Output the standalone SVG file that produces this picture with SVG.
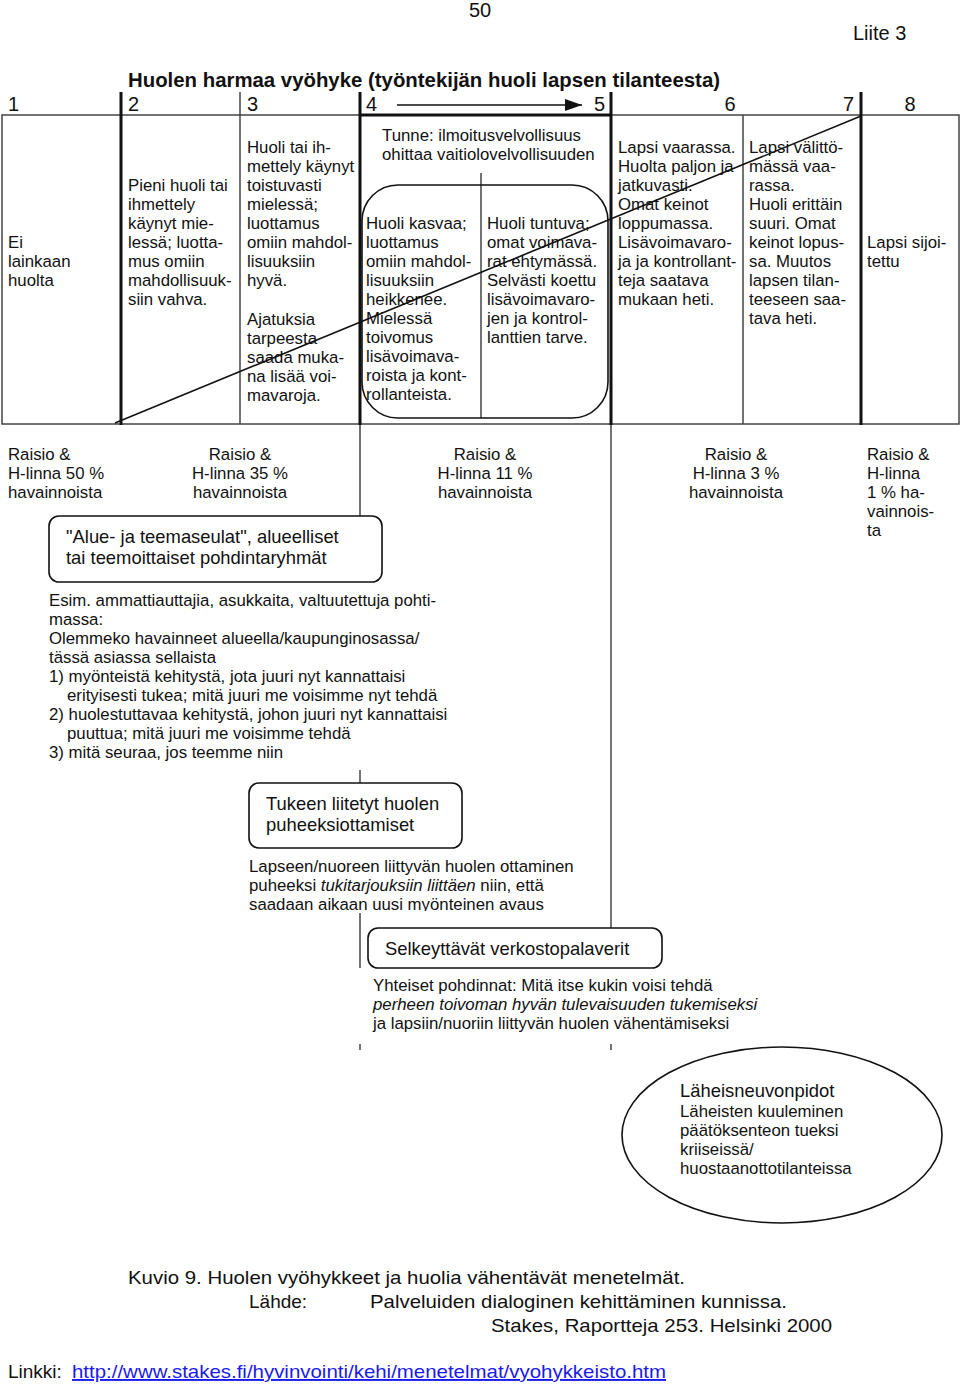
<svg xmlns="http://www.w3.org/2000/svg" width="960" height="1384" viewBox="0 0 960 1384">
<style>
text{font-family:"Liberation Sans",Arial,sans-serif;fill:#111;}
.t{font-size:16.8px;}
.m{font-size:18.4px;}
.h{font-size:20px;}
.thick{stroke:#111;stroke-width:3;fill:none;}
.thin{stroke:#444;stroke-width:1.5;fill:none;}
.box{fill:#fff;stroke:#111;stroke-width:1.6;}
.c{text-anchor:middle;}
.e{text-anchor:end;}
</style>
<defs>
<marker id="ah" markerWidth="18" markerHeight="14" refX="17" refY="7" orient="auto" markerUnits="userSpaceOnUse"><path d="M0,1 L17,7 L0,13 Z" fill="#111"/></marker>
<clipPath id="clipL"><rect x="240" y="850" width="400" height="61"/></clipPath>
</defs>
<rect width="960" height="1384" fill="#fff"/>

<g id="header">
<text class="h c" x="480" y="17">50</text>
<text class="h" x="853" y="40">Liite 3</text>
<text x="128" y="87" style="font-size:21px;font-weight:bold" textLength="592" lengthAdjust="spacingAndGlyphs">Huolen harmaa vyöhyke (työntekijän huoli lapsen tilanteesta)</text>
<text class="h" x="8" y="111">1</text>
<text class="h" x="128" y="111">2</text>
<text class="h" x="247" y="111">3</text>
<text class="h" x="366" y="111">4</text>
<text class="h e" x="605" y="111">5</text>
<text class="h c" x="730" y="111">6</text>
<text class="h e" x="854" y="111">7</text>
<text class="h c" x="910" y="111">8</text>
</g>

<g id="table">
<rect x="2" y="115" width="957" height="309" class="thin"/>
<line x1="360" y1="115" x2="611" y2="115" class="thick"/>
<line x1="121" y1="92" x2="121" y2="425" class="thick"/>
<line x1="240" y1="92" x2="240" y2="424" class="thin"/>
<line x1="360" y1="92" x2="360" y2="425" class="thick"/>
<line x1="611" y1="92" x2="611" y2="425" class="thick"/>
<line x1="743" y1="115" x2="743" y2="424" class="thin"/>
<line x1="861" y1="92" x2="861" y2="425" class="thick"/>
<line x1="481" y1="173" x2="481" y2="418" class="thin"/>
<rect x="362" y="185" width="246" height="233" rx="36" ry="36" fill="none" stroke="#111" stroke-width="1.6"/>
</g>

<g id="col1">
<text class="t" x="8" y="248">Ei</text>
<text class="t" x="8" y="267">lainkaan</text>
<text class="t" x="8" y="286">huolta</text>
</g>
<g id="col2">
<text class="t" x="128" y="191">Pieni huoli tai</text>
<text class="t" x="128" y="210">ihmettely</text>
<text class="t" x="128" y="229">käynyt mie-</text>
<text class="t" x="128" y="248">lessä; luotta-</text>
<text class="t" x="128" y="267">mus omiin</text>
<text class="t" x="128" y="286">mahdollisuuk-</text>
<text class="t" x="128" y="305">siin vahva.</text>
</g>
<g id="col3">
<text class="t" x="247" y="153">Huoli tai ih-</text>
<text class="t" x="247" y="172">mettely käynyt</text>
<text class="t" x="247" y="191">toistuvasti</text>
<text class="t" x="247" y="210">mielessä;</text>
<text class="t" x="247" y="229">luottamus</text>
<text class="t" x="247" y="248">omiin mahdol-</text>
<text class="t" x="247" y="267">lisuuksiin</text>
<text class="t" x="247" y="286">hyvä.</text>
<text class="t" x="247" y="325">Ajatuksia</text>
<text class="t" x="247" y="344">tarpeesta</text>
<text class="t" x="247" y="363">saada muka-</text>
<text class="t" x="247" y="382">na lisää voi-</text>
<text class="t" x="247" y="401">mavaroja.</text>
</g>
<g id="col4">
<text class="t" x="382" y="141">Tunne: ilmoitusvelvollisuus</text>
<text class="t" x="382" y="160">ohittaa vaitiolovelvollisuuden</text>
<text class="t" x="366" y="229">Huoli kasvaa;</text>
<text class="t" x="366" y="248">luottamus</text>
<text class="t" x="366" y="267">omiin mahdol-</text>
<text class="t" x="366" y="286">lisuuksiin</text>
<text class="t" x="366" y="305">heikkenee.</text>
<text class="t" x="366" y="324">Mielessä</text>
<text class="t" x="366" y="343">toivomus</text>
<text class="t" x="366" y="362">lisävoimava-</text>
<text class="t" x="366" y="381">roista ja kont-</text>
<text class="t" x="366" y="400">rollanteista.</text>
</g>
<g id="col5">
<text class="t" x="487" y="229">Huoli tuntuva;</text>
<text class="t" x="487" y="248">omat voimava-</text>
<text class="t" x="487" y="267">rat ehtymässä.</text>
<text class="t" x="487" y="286">Selvästi koettu</text>
<text class="t" x="487" y="305">lisävoimavaro-</text>
<text class="t" x="487" y="324">jen ja kontrol-</text>
<text class="t" x="487" y="343">lanttien tarve.</text>
</g>
<g id="col6">
<text class="t" x="618" y="153">Lapsi vaarassa.</text>
<text class="t" x="618" y="172">Huolta paljon ja</text>
<text class="t" x="618" y="191">jatkuvasti.</text>
<text class="t" x="618" y="210">Omat keinot</text>
<text class="t" x="618" y="229">loppumassa.</text>
<text class="t" x="618" y="248">Lisävoimavaro-</text>
<text class="t" x="618" y="267">ja ja kontrollant-</text>
<text class="t" x="618" y="286">teja saatava</text>
<text class="t" x="618" y="305">mukaan heti.</text>
</g>
<g id="col7">
<text class="t" x="749" y="153">Lapsi välittö-</text>
<text class="t" x="749" y="172">mässä vaa-</text>
<text class="t" x="749" y="191">rassa.</text>
<text class="t" x="749" y="210">Huoli erittäin</text>
<text class="t" x="749" y="229">suuri. Omat</text>
<text class="t" x="749" y="248">keinot lopus-</text>
<text class="t" x="749" y="267">sa. Muutos</text>
<text class="t" x="749" y="286">lapsen tilan-</text>
<text class="t" x="749" y="305">teeseen saa-</text>
<text class="t" x="749" y="324">tava heti.</text>
</g>
<g id="col8">
<text class="t" x="867" y="248">Lapsi sijoi-</text>
<text class="t" x="867" y="267">tettu</text>
</g>

<g id="connectors">
<line x1="397" y1="105" x2="582" y2="105" stroke="#111" stroke-width="1.5" marker-end="url(#ah)"/>
<line x1="115" y1="423" x2="861" y2="116" stroke="#111" stroke-width="1.6"/>
<line x1="360" y1="425" x2="360" y2="516" class="thin"/>
<line x1="611" y1="425" x2="611" y2="928" class="thin"/>
<line x1="360" y1="770" x2="360" y2="783" class="thin"/>
<line x1="360" y1="913" x2="360" y2="968" class="thin"/>
<line x1="360" y1="1044" x2="360" y2="1050" class="thin"/>
<line x1="611" y1="1044" x2="611" y2="1050" class="thin"/>
</g>

<g id="stats">
<text class="t" x="8" y="460">Raisio &amp;</text>
<text class="t" x="8" y="479">H-linna 50 %</text>
<text class="t" x="8" y="498">havainnoista</text>
<text class="t c" x="240" y="460">Raisio &amp;</text>
<text class="t c" x="240" y="479">H-linna 35 %</text>
<text class="t c" x="240" y="498">havainnoista</text>
<text class="t c" x="485" y="460">Raisio &amp;</text>
<text class="t c" x="485" y="479">H-linna 11 %</text>
<text class="t c" x="485" y="498">havainnoista</text>
<text class="t c" x="736" y="460">Raisio &amp;</text>
<text class="t c" x="736" y="479">H-linna 3 %</text>
<text class="t c" x="736" y="498">havainnoista</text>
<text class="t" x="867" y="460">Raisio &amp;</text>
<text class="t" x="867" y="479">H-linna</text>
<text class="t" x="867" y="498">1 % ha-</text>
<text class="t" x="867" y="517">vainnois-</text>
<text class="t" x="867" y="536">ta</text>
</g>

<g id="alue">
<rect x="49" y="516" width="333" height="66" rx="10" class="box"/>
<text class="m" x="66" y="543">"Alue- ja teemaseulat", alueelliset</text>
<text class="m" x="66" y="564">tai teemoittaiset pohdintaryhmät</text>
</g>
<g id="alue-text">
<text class="t" x="49" y="606">Esim. ammattiauttajia, asukkaita, valtuutettuja pohti-</text>
<text class="t" x="49" y="625">massa:</text>
<text class="t" x="49" y="644">Olemmeko havainneet alueella/kaupunginosassa/</text>
<text class="t" x="49" y="663">tässä asiassa sellaista</text>
<text class="t" x="49" y="682">1) myönteistä kehitystä, jota juuri nyt kannattaisi</text>
<text class="t" x="67" y="701">erityisesti tukea; mitä juuri me voisimme nyt tehdä</text>
<text class="t" x="49" y="720">2) huolestuttavaa kehitystä, johon juuri nyt kannattaisi</text>
<text class="t" x="67" y="739">puuttua; mitä juuri me voisimme tehdä</text>
<text class="t" x="49" y="758">3) mitä seuraa, jos teemme niin</text>
</g>

<g id="tukeen">
<rect x="249" y="783" width="213" height="65" rx="10" class="box"/>
<text class="m" x="266" y="810">Tukeen liitetyt huolen</text>
<text class="m" x="266" y="831">puheeksiottamiset</text>
</g>
<g id="tukeen-text" clip-path="url(#clipL)">
<text class="t" x="249" y="872">Lapseen/nuoreen liittyvän huolen ottaminen</text>
<text class="t" x="249" y="891">puheeksi <tspan font-style="italic">tukitarjouksiin liittäen</tspan> niin, että</text>
<text class="t" x="249" y="910">saadaan aikaan uusi myönteinen avaus</text>
</g>

<g id="verkosto">
<rect x="368" y="928" width="294" height="40" rx="10" class="box"/>
<text class="m" x="385" y="955">Selkeyttävät verkostopalaverit</text>
</g>
<g id="verkosto-text">
<text class="t" x="373" y="991">Yhteiset pohdinnat: Mitä itse kukin voisi tehdä</text>
<text class="t" x="373" y="1010" font-style="italic">perheen toivoman hyvän tulevaisuuden tukemiseksi</text>
<text class="t" x="373" y="1029">ja lapsiin/nuoriin liittyvän huolen vähentämiseksi</text>
</g>

<g id="laheis">
<ellipse cx="782" cy="1135" rx="160" ry="88" class="box"/>
<text class="m" x="680" y="1097">Läheisneuvonpidot</text>
<text class="t" x="680" y="1117">Läheisten kuuleminen</text>
<text class="t" x="680" y="1136">päätöksenteon tueksi</text>
<text class="t" x="680" y="1155">kriiseissä/</text>
<text class="t" x="680" y="1174">huostaanottotilanteissa</text>
</g>

<g id="caption">
<text x="128" y="1284" style="font-size:19px" textLength="557" lengthAdjust="spacingAndGlyphs">Kuvio 9. Huolen vyöhykkeet ja huolia vähentävät menetelmät.</text>
<text x="249" y="1308" style="font-size:19px">Lähde:</text>
<text x="370" y="1308" style="font-size:19px" textLength="417" lengthAdjust="spacingAndGlyphs">Palveluiden dialoginen kehittäminen kunnissa.</text>
<text x="491" y="1332" style="font-size:19px" textLength="341" lengthAdjust="spacingAndGlyphs">Stakes, Raportteja 253. Helsinki 2000</text>
<text x="8" y="1378" style="font-size:19px">Linkki: </text>
<text x="72" y="1378" style="font-size:19px;fill:#1a1aee;text-decoration:underline" textLength="594" lengthAdjust="spacingAndGlyphs">http://www.stakes.fi/hyvinvointi/kehi/menetelmat/vyohykkeisto.htm</text>
</g>
</svg>
